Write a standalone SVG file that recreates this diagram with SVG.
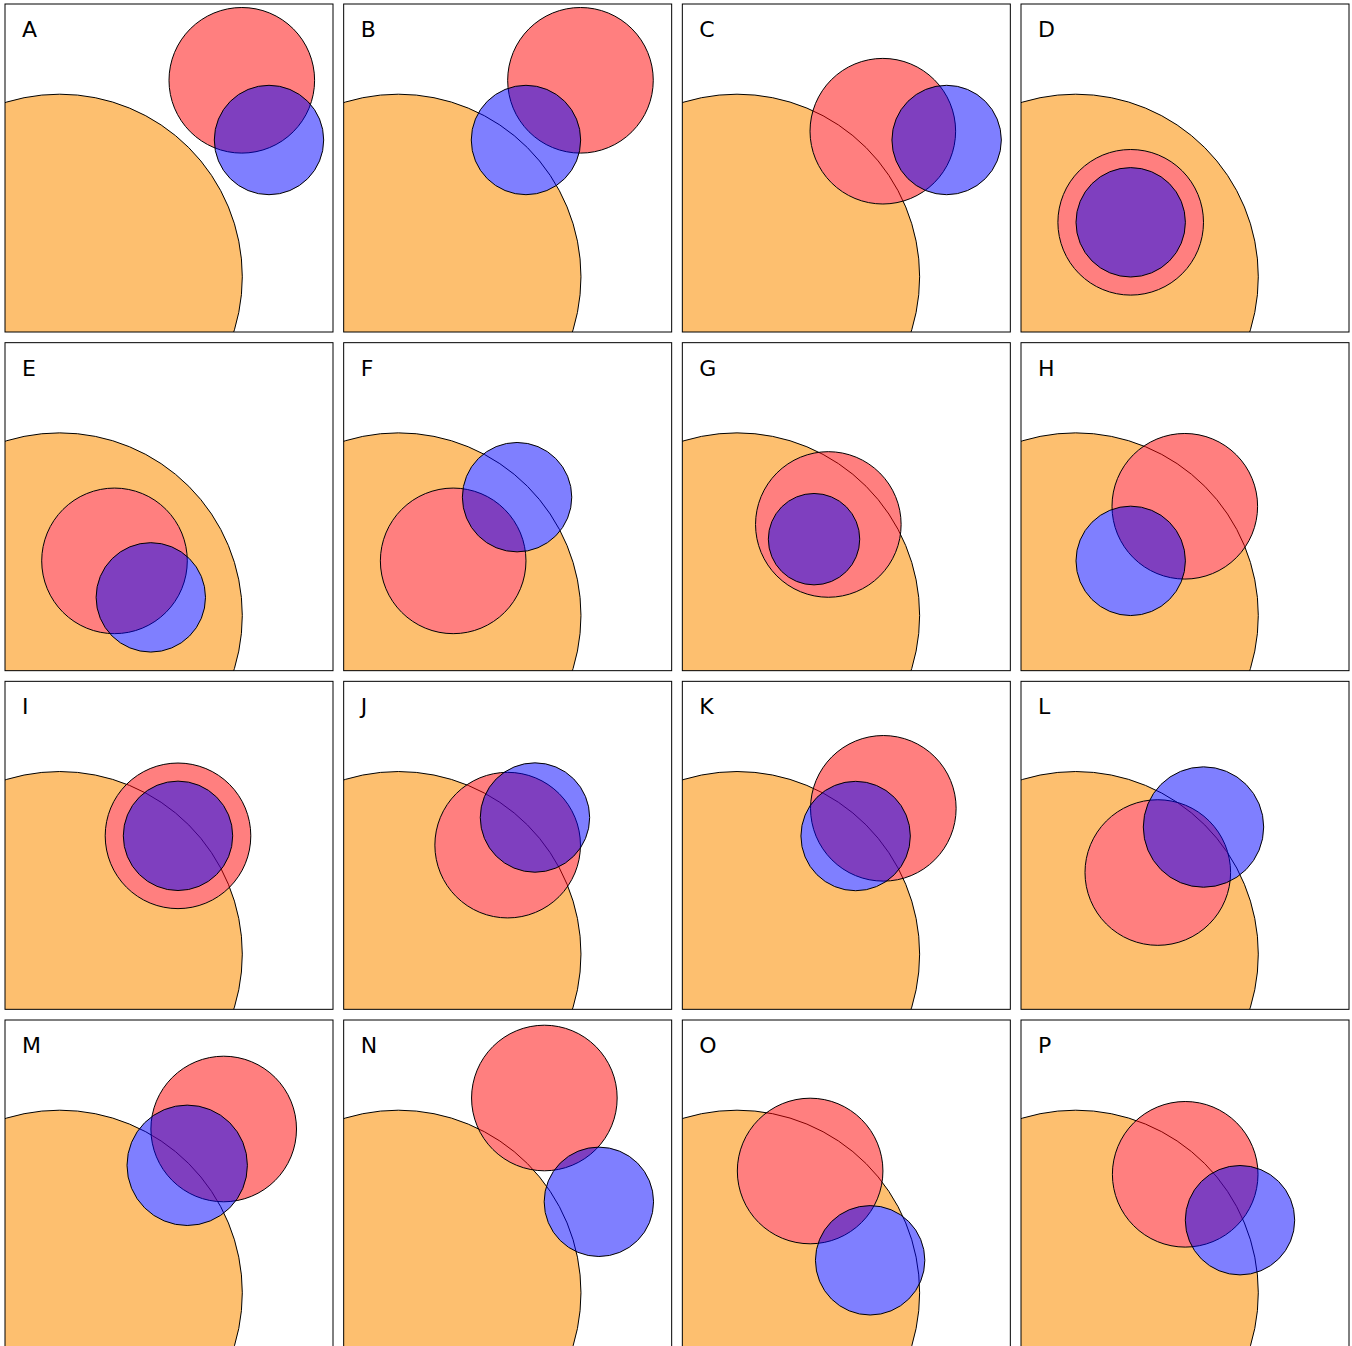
<svg xmlns="http://www.w3.org/2000/svg" xmlns:xlink="http://www.w3.org/1999/xlink" width="1352" height="1346" viewBox="0 0 1352 1346">
<style>
.bg{fill:#fff}
.orange{fill:#fdbf6f}
.ko{fill:#fff}
.ostroke{fill:none;stroke:#000;stroke-width:1}
.red{fill:#f00;fill-opacity:.5;stroke:#000;stroke-width:1}
.blue{fill:#00f;fill-opacity:.5;stroke:#000;stroke-width:1}
.frame{fill:none;stroke:#000;stroke-width:1}
.lbl{font-family:'DejaVu Sans',sans-serif;font-size:22px;fill:#000}
</style>
<defs>
<clipPath id="clip" clipPathUnits="userSpaceOnUse"><rect x="0" y="0" width="328" height="328"/></clipPath>
<circle id="og" cx="54.7" cy="272.8" r="182.6"/>
</defs>
<rect class="bg" x="0" y="0" width="1352" height="1346"/>

<g id="panel-A" transform="translate(5,4)">
<g clip-path="url(#clip)">
<use xlink:href="#og" class="orange"/>
<circle class="ko" cx="236.8" cy="76.3" r="72.8"/><circle class="ko" cx="264" cy="136" r="54.7"/>
<use xlink:href="#og" class="ostroke"/>
<circle class="red" cx="236.8" cy="76.3" r="72.8"/><circle class="blue" cx="264" cy="136" r="54.7"/>
</g>
<rect class="frame" x="0" y="0" width="328" height="328"/>
<text class="lbl" x="17" y="33">A</text>
</g>

<g id="panel-B" transform="translate(343.67,4)">
<g clip-path="url(#clip)">
<use xlink:href="#og" class="orange"/>
<circle class="ko" cx="236.8" cy="76.3" r="72.8"/><circle class="ko" cx="182.3" cy="136" r="54.7"/>
<use xlink:href="#og" class="ostroke"/>
<circle class="red" cx="236.8" cy="76.3" r="72.8"/><circle class="blue" cx="182.3" cy="136" r="54.7"/>
</g>
<rect class="frame" x="0" y="0" width="328" height="328"/>
<text class="lbl" x="17" y="33">B</text>
</g>

<g id="panel-C" transform="translate(682.33,4)">
<g clip-path="url(#clip)">
<use xlink:href="#og" class="orange"/>
<circle class="ko" cx="200.5" cy="127.2" r="72.8"/><circle class="ko" cx="264.3" cy="136" r="54.7"/>
<use xlink:href="#og" class="ostroke"/>
<circle class="red" cx="200.5" cy="127.2" r="72.8"/><circle class="blue" cx="264.3" cy="136" r="54.7"/>
</g>
<rect class="frame" x="0" y="0" width="328" height="328"/>
<text class="lbl" x="17" y="33">C</text>
</g>

<g id="panel-D" transform="translate(1021,4)">
<g clip-path="url(#clip)">
<use xlink:href="#og" class="orange"/>
<circle class="ko" cx="109.7" cy="218.3" r="72.8"/>
<use xlink:href="#og" class="ostroke"/>
<circle class="red" cx="109.7" cy="218.3" r="72.8"/><circle class="blue" cx="109.7" cy="218.3" r="54.7"/>
</g>
<rect class="frame" x="0" y="0" width="328" height="328"/>
<text class="lbl" x="17" y="33">D</text>
</g>

<g id="panel-E" transform="translate(5,342.67)">
<g clip-path="url(#clip)">
<use xlink:href="#og" class="orange"/>
<circle class="ko" cx="109.5" cy="218.2" r="72.8"/><circle class="ko" cx="145.8" cy="254.7" r="54.7"/>
<use xlink:href="#og" class="ostroke"/>
<circle class="red" cx="109.5" cy="218.2" r="72.8"/><circle class="blue" cx="145.8" cy="254.7" r="54.7"/>
</g>
<rect class="frame" x="0" y="0" width="328" height="328"/>
<text class="lbl" x="17" y="33">E</text>
</g>

<g id="panel-F" transform="translate(343.67,342.67)">
<g clip-path="url(#clip)">
<use xlink:href="#og" class="orange"/>
<circle class="ko" cx="109.5" cy="218.2" r="72.8"/><circle class="ko" cx="173.4" cy="154.5" r="54.7"/>
<use xlink:href="#og" class="ostroke"/>
<circle class="red" cx="109.5" cy="218.2" r="72.8"/><circle class="blue" cx="173.4" cy="154.5" r="54.7"/>
</g>
<rect class="frame" x="0" y="0" width="328" height="328"/>
<text class="lbl" x="17" y="33">F</text>
</g>

<g id="panel-G" transform="translate(682.33,342.67)">
<g clip-path="url(#clip)">
<use xlink:href="#og" class="orange"/>
<circle class="ko" cx="146" cy="181.8" r="72.8"/>
<use xlink:href="#og" class="ostroke"/>
<circle class="red" cx="146" cy="181.8" r="72.8"/><circle class="blue" cx="131.7" cy="196.5" r="45.7"/>
</g>
<rect class="frame" x="0" y="0" width="328" height="328"/>
<text class="lbl" x="17" y="33">G</text>
</g>

<g id="panel-H" transform="translate(1021,342.67)">
<g clip-path="url(#clip)">
<use xlink:href="#og" class="orange"/>
<circle class="ko" cx="163.8" cy="163.6" r="72.8"/><circle class="ko" cx="109.7" cy="218.2" r="54.7"/>
<use xlink:href="#og" class="ostroke"/>
<circle class="red" cx="163.8" cy="163.6" r="72.8"/><circle class="blue" cx="109.7" cy="218.2" r="54.7"/>
</g>
<rect class="frame" x="0" y="0" width="328" height="328"/>
<text class="lbl" x="17" y="33">H</text>
</g>

<g id="panel-I" transform="translate(5,681.33)">
<g clip-path="url(#clip)">
<use xlink:href="#og" class="orange"/>
<circle class="ko" cx="173" cy="154.5" r="72.8"/>
<use xlink:href="#og" class="ostroke"/>
<circle class="red" cx="173" cy="154.5" r="72.8"/><circle class="blue" cx="173" cy="154.5" r="54.7"/>
</g>
<rect class="frame" x="0" y="0" width="328" height="328"/>
<text class="lbl" x="17" y="33">I</text>
</g>

<g id="panel-J" transform="translate(343.67,681.33)">
<g clip-path="url(#clip)">
<use xlink:href="#og" class="orange"/>
<circle class="ko" cx="164" cy="163.8" r="72.8"/><circle class="ko" cx="191.3" cy="136.2" r="54.7"/>
<use xlink:href="#og" class="ostroke"/>
<circle class="red" cx="164" cy="163.8" r="72.8"/><circle class="blue" cx="191.3" cy="136.2" r="54.7"/>
</g>
<rect class="frame" x="0" y="0" width="328" height="328"/>
<text class="lbl" x="17" y="33">J</text>
</g>

<g id="panel-K" transform="translate(682.33,681.33)">
<g clip-path="url(#clip)">
<use xlink:href="#og" class="orange"/>
<circle class="ko" cx="201" cy="127" r="72.8"/><circle class="ko" cx="173.3" cy="154.7" r="54.7"/>
<use xlink:href="#og" class="ostroke"/>
<circle class="red" cx="201" cy="127" r="72.8"/><circle class="blue" cx="173.3" cy="154.7" r="54.7"/>
</g>
<rect class="frame" x="0" y="0" width="328" height="328"/>
<text class="lbl" x="17" y="33">K</text>
</g>

<g id="panel-L" transform="translate(1021,681.33)">
<g clip-path="url(#clip)">
<use xlink:href="#og" class="orange"/>
<circle class="ko" cx="136.8" cy="191.2" r="72.8"/><circle class="ko" cx="182.5" cy="145.7" r="60.2"/>
<use xlink:href="#og" class="ostroke"/>
<circle class="red" cx="136.8" cy="191.2" r="72.8"/><circle class="blue" cx="182.5" cy="145.7" r="60.2"/>
</g>
<rect class="frame" x="0" y="0" width="328" height="328"/>
<text class="lbl" x="17" y="33">L</text>
</g>

<g id="panel-M" transform="translate(5,1020)">
<g clip-path="url(#clip)">
<use xlink:href="#og" class="orange"/>
<circle class="ko" cx="218.7" cy="109" r="72.8"/><circle class="ko" cx="182.2" cy="145.3" r="60.2"/>
<use xlink:href="#og" class="ostroke"/>
<circle class="red" cx="218.7" cy="109" r="72.8"/><circle class="blue" cx="182.2" cy="145.3" r="60.2"/>
</g>
<rect class="frame" x="0" y="0" width="328" height="328"/>
<text class="lbl" x="17" y="33">M</text>
</g>

<g id="panel-N" transform="translate(343.67,1020)">
<g clip-path="url(#clip)">
<use xlink:href="#og" class="orange"/>
<circle class="ko" cx="200.7" cy="78" r="72.8"/><circle class="ko" cx="255.2" cy="181.8" r="54.7"/>
<use xlink:href="#og" class="ostroke"/>
<circle class="red" cx="200.7" cy="78" r="72.8"/><circle class="blue" cx="255.2" cy="181.8" r="54.7"/>
</g>
<rect class="frame" x="0" y="0" width="328" height="328"/>
<text class="lbl" x="17" y="33">N</text>
</g>

<g id="panel-O" transform="translate(682.33,1020)">
<g clip-path="url(#clip)">
<use xlink:href="#og" class="orange"/>
<circle class="ko" cx="127.8" cy="151" r="72.8"/><circle class="ko" cx="187.8" cy="240.3" r="54.7"/>
<use xlink:href="#og" class="ostroke"/>
<circle class="red" cx="127.8" cy="151" r="72.8"/><circle class="blue" cx="187.8" cy="240.3" r="54.7"/>
</g>
<rect class="frame" x="0" y="0" width="328" height="328"/>
<text class="lbl" x="17" y="33">O</text>
</g>

<g id="panel-P" transform="translate(1021,1020)">
<g clip-path="url(#clip)">
<use xlink:href="#og" class="orange"/>
<circle class="ko" cx="164.2" cy="154.3" r="72.8"/><circle class="ko" cx="219" cy="200.2" r="54.7"/>
<use xlink:href="#og" class="ostroke"/>
<circle class="red" cx="164.2" cy="154.3" r="72.8"/><circle class="blue" cx="219" cy="200.2" r="54.7"/>
</g>
<rect class="frame" x="0" y="0" width="328" height="328"/>
<text class="lbl" x="17" y="33">P</text>
</g>

<g id="connectors"></g>
</svg>
